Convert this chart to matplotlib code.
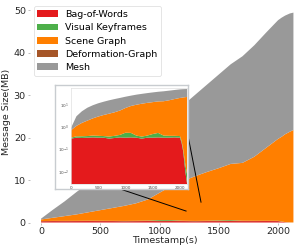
import matplotlib
matplotlib.use('Agg')
import matplotlib.pyplot as plt
import numpy as np

plt.rcParams['font.family'] = ['DejaVu Sans']

# ── data (MB per component, stacked) ─────────────────────────────────────────
timestamps = [0, 100, 200, 300, 400, 500, 600, 700, 800, 900, 1000, 1100, 1200,
              1300, 1400, 1500, 1600, 1700, 1800, 1900, 2000, 2030, 2060, 2100, 2130]
bag_of_words = [0.30, 0.33, 0.32, 0.33, 0.34, 0.33, 0.33, 0.30, 0.32, 0.34, 0.33, 0.34, 0.33,
                0.30, 0.33, 0.33, 0.34, 0.33, 0.33, 0.34, 0.33, 0.20, 0.08, 0.01, 0.003]
visual_keyframes = [0.03, 0.05, 0.06, 0.06, 0.07, 0.07, 0.06, 0.07, 0.08, 0.10, 0.22, 0.20, 0.08,
                    0.07, 0.08, 0.15, 0.20, 0.08, 0.07, 0.06, 0.06, 0.04, 0.02, 0.01, 0.005]
scene_graph = [0.37, 0.72, 1.12, 1.51, 1.99, 2.50, 3.01, 3.53, 4.10, 4.96, 6.45, 8.06, 9.39,
               10.53, 11.49, 12.32, 13.26, 13.64, 15.10, 17.20, 19.31, 19.96, 20.70, 21.38, 21.79]
deformation_graph = [0.02, 0.02, 0.02, 0.02, 0.02, 0.02, 0.02, 0.02, 0.02, 0.02, 0.02, 0.02, 0.02,
                     0.02, 0.02, 0.02, 0.02, 0.02, 0.02, 0.02, 0.02, 0.02, 0.02, 0.02, 0.02]
mesh = [0.18, 1.88, 3.48, 5.28, 6.88, 8.48, 9.98, 11.58, 13.08, 14.38, 15.38, 16.38, 17.88,
        19.18, 20.58, 22.08, 23.48, 25.13, 26.28, 27.18, 27.98, 28.08, 27.98, 27.88, 27.68]

labels = ['Bag-of-Words', 'Visual Keyframes', 'Scene Graph', 'Deformation-Graph', 'Mesh']
colors = ['#e41a1c', '#4daf4a', '#ff7f00', '#a65628', '#999999']
inset_xticks = [0, 500, 1000, 1500, 2000]
inset_yticks = [1e-2, 1e-1, 1e0, 1e1]

layers = [bag_of_words, visual_keyframes, scene_graph, deformation_graph, mesh]

W, H = 299, 247
fig = plt.figure(figsize=(W / 100, H / 100), dpi=100)

# ── main axes ────────────────────────────────────────────────────────────────
ax = fig.add_axes([30 / W, 1 - 222.5 / H, 269 / W, 220.5 / H])
ax.stackplot(timestamps, *layers, labels=labels, colors=colors, linewidth=0)
ax.set_xlim(-93, 2177)
ax.set_ylim(0, 52)
ax.set_xticks([0, 500, 1000, 1500, 2000])
ax.set_yticks([0, 10, 20, 30, 40, 50])
ax.tick_params(labelsize=6.8, length=1.5, width=0.6, color='0.7', pad=1.5,
               labelcolor='0.15')
ax.set_xlabel('Timestamp(s)', fontsize=6.8, labelpad=0.5, color='0.15')
ax.set_ylabel('Message Size(MB)', fontsize=6.8, labelpad=2, color='0.15')
for s in ax.spines.values():
    s.set_visible(False)

leg = ax.legend(loc='upper left', bbox_to_anchor=(0.01, 0.985), fontsize=6.8,
                frameon=True, handlelength=2.2, handleheight=0.7,
                labelspacing=0.45, borderpad=0.4, handletextpad=0.7,
                borderaxespad=0.1)
leg.get_frame().set_edgecolor('0.85')
leg.get_frame().set_linewidth(0.6)

# zoom lines (hidden under the inset box at their start)
ax.plot([582, 1224], [8.7, 2.7], color='black', lw=0.7, clip_on=False, zorder=5)
ax.plot([1181, 1350], [28.9, 4.8], color='black', lw=0.7, clip_on=False, zorder=5)

# ── inset box + inset axes ───────────────────────────────────────────────────
box = fig.add_axes([55 / W, 1 - 189 / H, 133 / W, 104 / H])
box.set_xticks([])
box.set_yticks([])
for s in box.spines.values():
    s.set_edgecolor('#c8ccd0')
    s.set_linewidth(1.0)

ins = fig.add_axes([71 / W, 1 - 184 / H, 116 / W, 96 / H])
ins.stackplot(timestamps, *layers, colors=colors, linewidth=0)
ins.set_yscale('log')
ins.set_xlim(0, 2130)
ins.set_ylim(0.0028, 55)
ins.set_xticks(inset_xticks)
ins.set_yticks(inset_yticks)
ins.minorticks_off()
ins.tick_params(labelsize=3, length=0, pad=1.5, labelcolor='0.3')
for s in ins.spines.values():
    s.set_edgecolor('#e0e0e0')
    s.set_linewidth(0.5)

fig.savefig('out.png', dpi=100)
